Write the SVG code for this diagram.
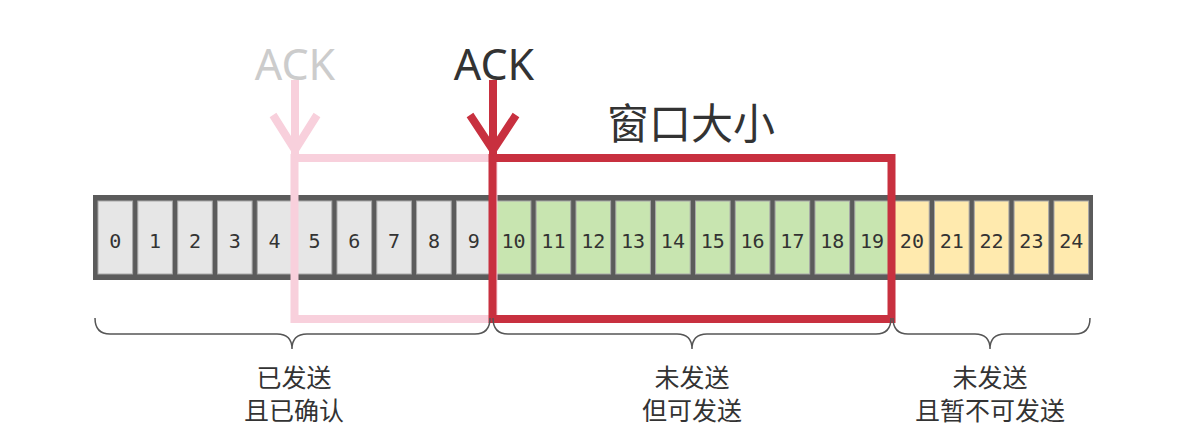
<svg xmlns="http://www.w3.org/2000/svg" width="1178" height="446" viewBox="0 0 1178 446">
<style>
.cell{stroke:#a8a8a8;stroke-width:1}
.g{fill:#e6e6e6}.gr{fill:#c8e5b0}.y{fill:#ffeaae}
.num{font-family:"DejaVu Sans Mono",monospace;font-size:20px;fill:#333;text-anchor:middle}
.lbl{font-family:"Noto Sans CJK SC",sans-serif;font-size:25px;fill:#333;text-anchor:middle}
.brace{fill:none;stroke:#555;stroke-width:1.5}
</style>
<rect width="1178" height="446" fill="#fff"/>
<g id="bar">
<rect x="93" y="195" width="1000" height="85" fill="#5b5b5b"/>
<g id="cells">
<rect class="cell g" x="98" y="201" width="34.6" height="73"/>
<rect class="cell g" x="137.8" y="201" width="34.6" height="73"/>
<rect class="cell g" x="177.7" y="201" width="34.6" height="73"/>
<rect class="cell g" x="217.5" y="201" width="34.6" height="73"/>
<rect class="cell g" x="257.3" y="201" width="34.6" height="73"/>
<rect class="cell g" x="297.2" y="201" width="34.6" height="73"/>
<rect class="cell g" x="337" y="201" width="34.6" height="73"/>
<rect class="cell g" x="376.8" y="201" width="34.6" height="73"/>
<rect class="cell g" x="416.6" y="201" width="34.6" height="73"/>
<rect class="cell g" x="456.5" y="201" width="34.6" height="73"/>
<rect class="cell gr" x="496.3" y="201" width="34.6" height="73"/>
<rect class="cell gr" x="536.1" y="201" width="34.6" height="73"/>
<rect class="cell gr" x="576" y="201" width="34.6" height="73"/>
<rect class="cell gr" x="615.8" y="201" width="34.6" height="73"/>
<rect class="cell gr" x="655.6" y="201" width="34.6" height="73"/>
<rect class="cell gr" x="695.5" y="201" width="34.6" height="73"/>
<rect class="cell gr" x="735.3" y="201" width="34.6" height="73"/>
<rect class="cell gr" x="775.1" y="201" width="34.6" height="73"/>
<rect class="cell gr" x="815" y="201" width="34.6" height="73"/>
<rect class="cell gr" x="854.8" y="201" width="34.6" height="73"/>
<rect class="cell y" x="894.6" y="201" width="34.6" height="73"/>
<rect class="cell y" x="934.5" y="201" width="34.6" height="73"/>
<rect class="cell y" x="974.3" y="201" width="34.6" height="73"/>
<rect class="cell y" x="1014.1" y="201" width="34.6" height="73"/>
<rect class="cell y" x="1054" y="201" width="34.6" height="73"/>
</g>
<g id="nums">
<text class="num" x="115.3" y="248">0</text>
<text class="num" x="155.1" y="248">1</text>
<text class="num" x="195" y="248">2</text>
<text class="num" x="234.8" y="248">3</text>
<text class="num" x="274.6" y="248">4</text>
<text class="num" x="314.5" y="248">5</text>
<text class="num" x="354.3" y="248">6</text>
<text class="num" x="394.1" y="248">7</text>
<text class="num" x="433.9" y="248">8</text>
<text class="num" x="473.8" y="248">9</text>
<text class="num" x="513.6" y="248">10</text>
<text class="num" x="553.4" y="248">11</text>
<text class="num" x="593.3" y="248">12</text>
<text class="num" x="633.1" y="248">13</text>
<text class="num" x="672.9" y="248">14</text>
<text class="num" x="712.8" y="248">15</text>
<text class="num" x="752.6" y="248">16</text>
<text class="num" x="792.4" y="248">17</text>
<text class="num" x="832.3" y="248">18</text>
<text class="num" x="872.1" y="248">19</text>
<text class="num" x="911.9" y="248">20</text>
<text class="num" x="951.8" y="248">21</text>
<text class="num" x="991.6" y="248">22</text>
<text class="num" x="1031.4" y="248">23</text>
<text class="num" x="1071.3" y="248">24</text>
</g>
</g>
<g id="old-window">
<rect x="294.5" y="158" width="199" height="161" fill="none" stroke="#f8d0dc" stroke-width="8"/>
</g>
<g id="old-ack">
<text x="295" y="80" font-family="Noto Sans, sans-serif" font-size="43" fill="#cccccc" text-anchor="middle">ACK</text>
</g>
<g id="window">
<rect x="492.5" y="158" width="399" height="161" fill="none" stroke="#c8303f" stroke-width="8"/>
<text x="691" y="139" font-family="Noto Sans CJK SC, sans-serif" font-size="42" fill="#333" text-anchor="middle">窗口大小</text>
</g>
<g id="ack">
<text x="494" y="80" font-family="Noto Sans, sans-serif" font-size="43" fill="#333" text-anchor="middle">ACK</text>
</g>
<g id="connectors">
<path d="M295 80 V154 M273 115 L295 150 L317 115" fill="none" stroke="#f8d0dc" stroke-width="8"/>
<path d="M493 80 V154 M470 115 L493 150 L516 115" fill="none" stroke="#c8303f" stroke-width="8"/>
</g>
<g id="braces">
<path class="brace" d="M95 318 Q95 334 110 334 L277 334 Q292 334 292 349 Q292 334 307 334 L475 334 Q490 334 490 318"/>
<path class="brace" d="M493 318 Q493 334 508 334 L677 334 Q692 334 692 349 Q692 334 707 334 L876 334 Q891 334 891 318"/>
<path class="brace" d="M893 318 Q893 334 908 334 L975 334 Q990 334 990 349 Q990 334 1005 334 L1075 334 Q1090 334 1090 318"/>
</g>
<g id="labels">
<text class="lbl" x="294" y="387">已发送</text>
<text class="lbl" x="294" y="420">且已确认</text>
<text class="lbl" x="692" y="387">未发送</text>
<text class="lbl" x="692" y="420">但可发送</text>
<text class="lbl" x="990" y="387">未发送</text>
<text class="lbl" x="990" y="420">且暂不可发送</text>
</g>
</svg>
